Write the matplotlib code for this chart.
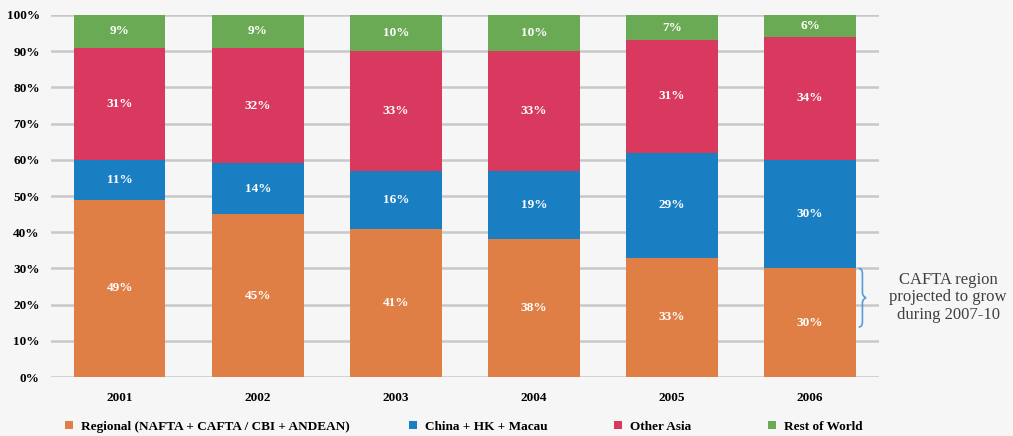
import numpy as np
import matplotlib.pyplot as plt
from matplotlib.path import Path
from matplotlib.patches import PathPatch
import matplotlib.transforms as mtransforms

years = ["2001", "2002", "2003", "2004", "2005", "2006"]
regional = [49, 45, 41, 38, 33, 30]
china = [11, 14, 16, 19, 29, 30]
other_asia = [31, 32, 33, 33, 31, 34]
rest_world = [9, 9, 10, 10, 7, 6]

series = [
    ("Regional (NAFTA + CAFTA / CBI + ANDEAN)", regional, "#E07F45"),
    ("China + HK + Macau", china, "#1A7EC2"),
    ("Other Asia", other_asia, "#D9395F"),
    ("Rest of World", rest_world, "#6AAA55"),
]
legend_x = [0.0525, 0.3925, 0.5945, 0.7465]

plt.rcParams["font.family"] = ["Liberation Serif", "DejaVu Serif"]
bg = "#F6F6F6"
fs = 9.5

fig = plt.figure(figsize=(10.13, 4.36), dpi=100, facecolor=bg)
ax = fig.add_axes([0.0503, 0.1353, 0.8174, 0.8303], facecolor=bg)

x = np.arange(len(years))
bottom = np.zeros(len(years))
handles = []
for name, vals, color in series:
    vals = np.array(vals, dtype=float)
    bars = ax.bar(x, vals, width=0.66, bottom=bottom, color=color, label=name, zorder=3)
    handles.append(bars)
    for xi, b, v in zip(x, bottom, vals):
        ax.text(xi, b + v / 2, f"{int(v)}%", ha="center", va="center",
                color="white", fontsize=fs, fontweight="bold", zorder=4)
    bottom += vals

ax.set_xlim(-0.5, len(years) - 0.5)
ax.set_ylim(0, 100)
ax.set_yticks(range(0, 101, 10))
ax.set_yticklabels([f"{t}%" for t in range(0, 101, 10)], fontsize=fs, fontweight="bold")
ax.set_xticks(x)
ax.set_xticklabels(years, fontsize=fs, fontweight="bold")
ax.tick_params(length=0, pad=8)
ax.tick_params(axis="x", pad=11)
ax.grid(axis="y", color="#C8C8C8", linewidth=1.8, zorder=0)
for s in ax.spines.values():
    s.set_visible(False)

# curly brace beside the 2006 regional segment
trans = mtransforms.blended_transform_factory(ax.transAxes, ax.transData)
xb = 0.9755
top, bot = 30, 13.8
mid = (top + bot) / 2
w = 0.0045
verts = [
    (xb, top), (xb + w, top), (xb + w, top - 1.5), (xb + w, mid + 1.5),
    (xb + w, mid + 0.4), (xb + 2 * w, mid), (xb + 2 * w, mid),
    (xb + w, mid - 0.4), (xb + w, mid - 1.5),
    (xb + w, bot + 1.5), (xb + w, bot), (xb, bot),
]
codes = [Path.MOVETO, Path.CURVE3, Path.CURVE3, Path.LINETO,
         Path.CURVE3, Path.CURVE3, Path.MOVETO,
         Path.CURVE3, Path.CURVE3,
         Path.LINETO, Path.CURVE3, Path.CURVE3]
ax.add_patch(PathPatch(Path(verts, codes), transform=trans, fill=False,
                       edgecolor="#5B9BD5", linewidth=1.2, clip_on=False, zorder=5))

fig.text(0.936, 0.318, "CAFTA region\nprojected to grow\nduring 2007-10",
         ha="center", va="center", fontsize=12, color="#404040", linespacing=1.15)

for h, lx in zip(handles, legend_x):
    fig.legend(handles=[h], loc="lower left", bbox_to_anchor=(lx, -0.02),
               frameon=False, prop={"weight": "bold", "size": fs},
               handlelength=0.6, handleheight=0.6, handletextpad=0.6)

fig.savefig("out.png", dpi=100, facecolor=bg)
